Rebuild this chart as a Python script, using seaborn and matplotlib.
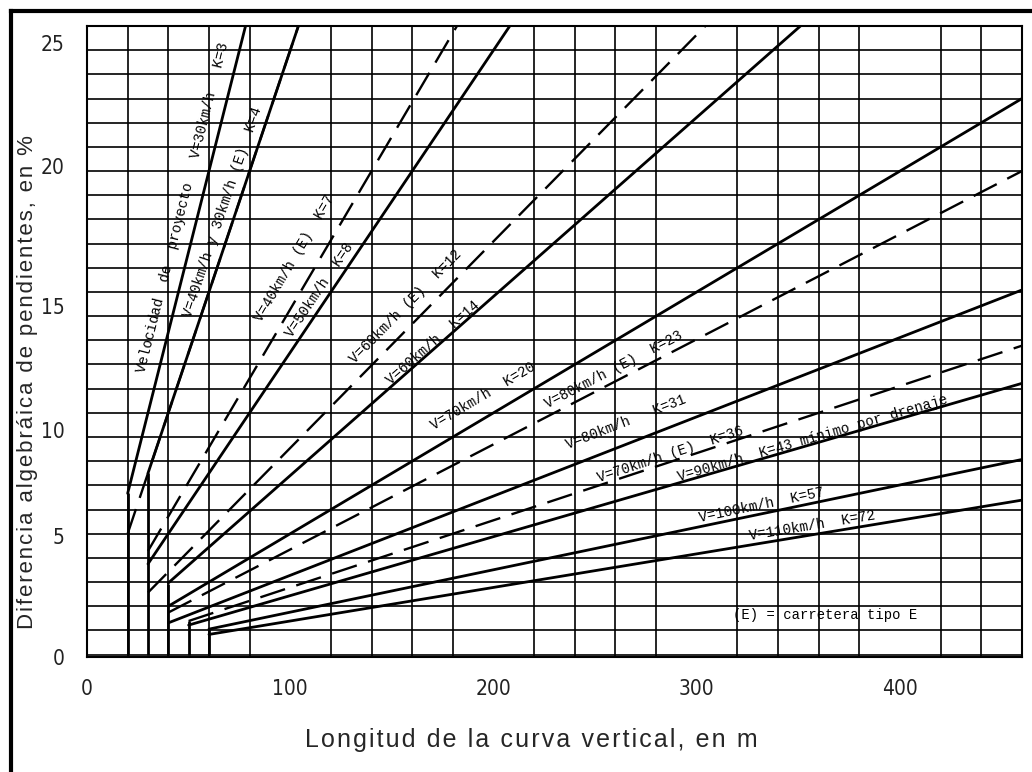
import numpy as np
import pandas as pd
import matplotlib
matplotlib.use("Agg")
import matplotlib.pyplot as plt
from matplotlib.lines import Line2D
import seaborn as sns

# Curvas verticales: K, longitud minima (m), trazo
K_vals = [3, 4, 4, 7, 8, 11.7, 13.5, 20, 23, 30.5, 36, 41, 57, 72]
L_min = [20, 30, 20, 30, 30, 30, 40, 40, 40, 40, 50, 50, 60, 60]
dashed = [False, False, True, True, False, True, False, False, True, False, True, False, False, False]
curve_labels = ["Velocidad  de  proyecto   V=30km/h   K=3",
                "V=40km/h y 30km/h (E)  K=4",
                "",
                "V=40km/h (E)  K=7",
                "V=50km/h  K=8",
                "V=60km/h (E)  K=12",
                "V=60km/h  K=14",
                "V=70km/h  K=20",
                "V=80km/h (E)  K=23",
                "V=80km/h   K=31",
                "V=70km/h (E)  K=36",
                "V=90km/h  K=43 mínimo por drenaje",
                "V=100km/h  K=57",
                "V=110km/h  K=72"]
# centre of each label (L, A) as read on the drawing
label_L = [47, 66.5, 0, 102, 114.6, 157, 170, 195, 259, 265, 287, 357, 332, 357]
label_A = [18.5, 18.3, 0, 16.4, 15.1, 14.4, 12.9, 10.7, 11.8, 9.6, 8.3, 8.95, 6.2, 5.35]

# tramos verticales (longitud minima)
vert_L = [20, 30, 40, 50, 60]
vert_top = [6.7, 7.5, 2.9, 1.4, 1.05]

L_max = 460
A_max = 26
ytick_pos = [-0.1, 4.9, 9.3, 14.4, 20.2, 25.3]
ytick_lab = ["0", "5", "10", "15", "20", "25"]
xtick_pos = [0, 100, 200, 300, 400]

sns.set_style("white")
plt.rcParams["font.family"] = ["Liberation Sans", "DejaVu Sans"]

fig = plt.figure(figsize=(10.32, 7.72), dpi=100)
ax = fig.add_axes([87/1032, 1-657/772, (1022-87)/1032, (657-26)/772])

# grid every 20 m and 1 %
ax.set_xticks(np.arange(0, L_max+1, 20), minor=True)
ax.set_yticks(np.arange(0, A_max+1, 1), minor=True)
ax.grid(which="minor", color="black", lw=1.2)
ax.grid(which="major", visible=False)

for K, L0, d in zip(K_vals, L_min, dashed):
    df = pd.DataFrame({"L": [L0, L_max], "A": [L0/K, L_max/K]})
    if d:
        sns.lineplot(data=df, x="L", y="A", ax=ax, color="black", lw=1.7,
                     linestyle=(0, (11, 5)), estimator=None)
    else:
        sns.lineplot(data=df, x="L", y="A", ax=ax, color="black", lw=2.0,
                     estimator=None)

ax.vlines(vert_L, 0, vert_top, color="black", lw=2.0)

for K, txt, Lc, Ac in zip(K_vals, curve_labels, label_L, label_A):
    if not txt:
        continue
    ax.text(Lc, Ac, txt, rotation=np.degrees(np.arctan(1/K)),
            transform_rotates_text=True, rotation_mode="anchor",
            ha="center", va="center", fontsize=10.2,
            family=["Liberation Mono", "DejaVu Sans Mono"], color="black")

ax.text(363, 1.65, "(E) = carretera tipo E", ha="center", va="center",
        fontsize=10, family=["Liberation Mono", "DejaVu Sans Mono"], color="black")

ax.set_xlim(0, L_max)
ax.set_ylim(0, A_max)
ax.set_xticks(xtick_pos)
ax.set_xticklabels([str(v) for v in xtick_pos])
ax.set_yticks(ytick_pos)
ax.set_yticklabels(ytick_lab)
ax.tick_params(which="both", length=0)
ax.tick_params(axis="y", pad=16, labelsize=15, labelcolor="#222222")
ax.tick_params(axis="x", pad=16, labelsize=15, labelcolor="#222222")
for lab in ax.get_xticklabels() + ax.get_yticklabels():
    lab.set_family("DejaVu Sans")
    lab.set_stretch("condensed")
ax.set_xlabel("")
ax.set_ylabel("")
for s in ax.spines.values():
    s.set_color("black")
    s.set_linewidth(1.5)


def spaced(s, sep="\u200a"):
    return sep.join(s)


fig.text(28/1032, 1-382/772, spaced("Diferencia algebráica de pendientes, en %"),
         rotation=90, ha="center", va="center", fontsize=16)
fig.text(531/1032, 1-740/772, spaced("Longitud de la curva vertical, en m"),
         ha="center", va="center", fontsize=18)

# drawing frame (left and top edges)
fig.add_artist(Line2D([11/1032, 11/1032], [0, 1-11/772], transform=fig.transFigure,
                      color="black", lw=3, solid_capstyle="projecting"))
fig.add_artist(Line2D([11/1032, 1], [1-11/772, 1-11/772], transform=fig.transFigure,
                      color="black", lw=3, solid_capstyle="projecting"))

fig.savefig("out.png", dpi=100)
